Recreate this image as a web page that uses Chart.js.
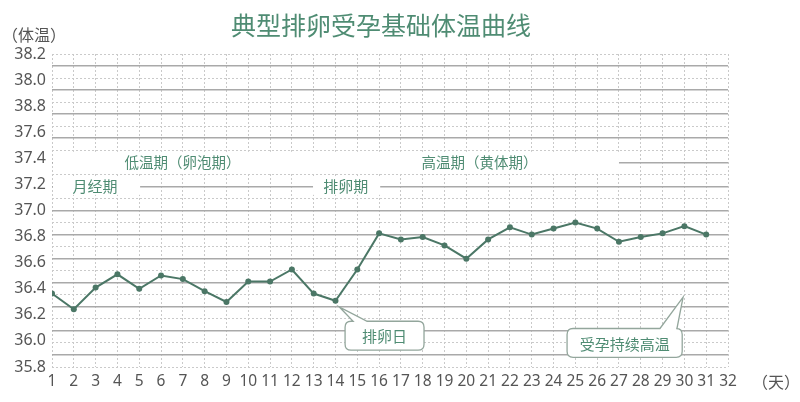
<!DOCTYPE html>
<html>
<head>
<meta charset="utf-8">
<script src="https://cdn.jsdelivr.net/npm/chart.js@4/dist/chart.umd.min.js"></script>
<style>
  html, body { margin: 0; padding: 0; background: #fff; }
  #wrap { width: 800px; height: 402px; position: relative; }
</style>
</head>
<body>
<div id="wrap"><canvas id="bbt-chart"></canvas></div>
<script>
// ===================== DATA =====================
const days = [1, 2, 3, 4, 5, 6, 7, 8, 9, 10, 11, 12, 13, 14, 15, 16, 17, 18, 19, 20, 21, 22, 23, 24, 25, 26, 27, 28, 29, 30, 31];
const temps = [36.31, 36.18, 36.36, 36.47, 36.35, 36.46, 36.43, 36.33, 36.24, 36.41, 36.41, 36.51, 36.31, 36.25, 36.51,
  36.81, 36.76, 36.78, 36.71, 36.60, 36.76, 36.86, 36.80, 36.85, 36.90, 36.85, 36.74, 36.78, 36.81, 36.87, 36.80];
// tick labels exactly as printed on the picture (top -> bottom)
const yTickLabels = ["38.2", "38.0", "38.8", "37.6", "37.4", "37.2", "37.0", "36.8", "36.6", "36.4", "36.2", "36.0", "35.8"];
const xTickLabels = ["1", "2", "3", "4", "5", "6", "7", "8", "9", "10", "11", "12", "13", "14", "15", "16",
  "17", "18", "19", "20", "21", "22", "23", "24", "25", "26", "27", "28", "29", "30", "31", "32"];

const GREEN = "#4f8c73";
const LINE = "#4b7766";
const CJK = "'Noto Sans CJK SC', 'Noto Sans', sans-serif";

// ===================== DRAW HELPERS =====================
function isSolid(v) {
  return Math.round(v * 10) % 2 === 0;
}

function callout(ctx, box, tip, base1, base2, text) {
  const r = 6;
  const { l, t, rt, b } = box;
  ctx.save();
  ctx.beginPath();
  ctx.moveTo(l + r, t);
  ctx.lineTo(base1, t);
  ctx.lineTo(tip.x, tip.y);
  ctx.lineTo(base2, t);
  ctx.lineTo(rt - r, t);
  ctx.quadraticCurveTo(rt, t, rt, t + r);
  ctx.lineTo(rt, b - r);
  ctx.quadraticCurveTo(rt, b, rt - r, b);
  ctx.lineTo(l + r, b);
  ctx.quadraticCurveTo(l, b, l, b - r);
  ctx.lineTo(l, t + r);
  ctx.quadraticCurveTo(l, t, l + r, t);
  ctx.closePath();
  ctx.fillStyle = "#fff";
  ctx.fill();
  ctx.strokeStyle = "#93a69c";
  ctx.lineWidth = 1.3;
  ctx.stroke();
  ctx.fillStyle = GREEN;
  ctx.font = "15px " + CJK;
  ctx.textAlign = "center";
  ctx.textBaseline = "middle";
  ctx.fillText(text, (l + rt) / 2, (t + b) / 2 + 1);
  ctx.restore();
}

const decorations = {
  id: "decorations",
  beforeDatasetsDraw(chart) {
    const { ctx } = chart;
    const x = chart.scales.x, y = chart.scales.y;
    ctx.save();
    // white band hiding the 37.4 row
    ctx.fillStyle = "#fff";
    ctx.fillRect(x.getPixelForValue(1) + 1, y.getPixelForValue(37.5) + 1.5,
      x.getPixelForValue(27) - x.getPixelForValue(1) - 1, y.getPixelForValue(37.3) - y.getPixelForValue(37.5) - 3);
    // gaps in the 37.2 row
    const y2a = y.getPixelForValue(37.27), y2b = y.getPixelForValue(37.13);
    ctx.fillRect(x.getPixelForValue(1) + 1, y2a, x.getPixelForValue(5.04) - x.getPixelForValue(1) - 1, y2b - y2a);
    ctx.fillRect(x.getPixelForValue(12.97), y2a, x.getPixelForValue(16.05) - x.getPixelForValue(12.97), y2b - y2a);

    ctx.fillStyle = GREEN;
    ctx.textAlign = "center";
    ctx.textBaseline = "middle";
    ctx.font = "14.5px " + CJK;
    ctx.fillText("低温期（卵泡期）", x.getPixelForValue(6.98), y.getPixelForValue(37.4));
    ctx.fillText("高温期（黄体期）", x.getPixelForValue(20.6), y.getPixelForValue(37.4));
    ctx.font = "15px " + CJK;
    ctx.fillText("月经期", x.getPixelForValue(2.97), y.getPixelForValue(37.2));
    ctx.fillText("排卵期", x.getPixelForValue(14.47), y.getPixelForValue(37.2));
    ctx.restore();
  },
  afterDatasetsDraw(chart) {
    const { ctx } = chart;
    const x = chart.scales.x, y = chart.scales.y;
    callout(ctx,
      { l: x.getPixelForValue(14.44), t: y.getPixelForValue(36.08), rt: x.getPixelForValue(18.06), b: y.getPixelForValue(35.84) },
      { x: x.getPixelForValue(14.17), y: y.getPixelForValue(36.2) },
      x.getPixelForValue(14.81), x.getPixelForValue(15.45), "排卵日");
    callout(ctx,
      { l: x.getPixelForValue(24.62), t: y.getPixelForValue(36.02), rt: x.getPixelForValue(29.9), b: y.getPixelForValue(35.78) },
      { x: x.getPixelForValue(29.94), y: y.getPixelForValue(36.28) },
      x.getPixelForValue(28.88), x.getPixelForValue(29.66), "受孕持续高温");

    // title and axis names
    ctx.save();
    ctx.textBaseline = "middle";
    ctx.textAlign = "center";
    ctx.fillStyle = GREEN;
    ctx.font = "25px " + CJK;
    ctx.fillText("典型排卵受孕基础体温曲线", 381, 25);
    ctx.fillStyle = "#555";
    ctx.font = "16px " + CJK;
    ctx.textAlign = "left";
    ctx.fillText("（体温）", 2, 35);
    ctx.fillText("（天）", 752, 382);
    ctx.restore();
  },
};

// ===================== CHART =====================
new Chart(document.getElementById("bbt-chart"), {
  type: "line",
  data: {
    datasets: [
      {
        data: days.map((d, i) => ({ x: d, y: temps[i] })),
        yAxisID: "y",
        borderColor: LINE,
        backgroundColor: LINE,
        borderWidth: 2,
        pointRadius: 3,
        pointBackgroundColor: LINE,
        pointBorderWidth: 0,
        tension: 0,
      },
    ],
  },
  options: {
    responsive: true,
    maintainAspectRatio: false,
    animation: false,
    layout: { padding: { top: 54, right: 72, left: 0, bottom: 0 } },
    plugins: { legend: { display: false }, tooltip: { enabled: false }, title: { display: false } },
    scales: {
      x: {
        type: "linear",
        min: 1,
        max: 32,
        afterFit: (s) => { s.height = 35; },
        ticks: {
          stepSize: 1,
          autoSkip: false,
          maxRotation: 0,
          padding: 5,
          color: "#555",
          font: { size: 15.5, family: "'Noto Sans', sans-serif" },
          callback: (v) => xTickLabels[v - 1],
        },
        grid: { color: "#c9c9c9", lineWidth: 1, drawTicks: false },
        border: { display: false, dash: [2, 2] },
      },
      yl: {
        type: "linear",
        position: "left",
        min: 0,
        max: 12,
        reverse: true,
        afterFit: (s) => { s.width = 52; },
        ticks: {
          stepSize: 1,
          padding: 6,
          color: "#555",
          font: { size: 16, family: "'Noto Sans', sans-serif" },
          callback: (v) => yTickLabels[v],
        },
        grid: { display: false, drawTicks: false },
        border: { display: false },
      },
      y: {
        type: "linear",
        position: "right",
        min: 35.7,
        max: 38.3,
        afterFit: (s) => { s.width = 0; },
        ticks: { stepSize: 0.1, display: false },
        grid: {
          drawTicks: false,
          color: (c) => (isSolid(c.tick.value) ? "#a9a9a9" : "#cacaca"),
          lineWidth: (c) => (isSolid(c.tick.value) ? 1.6 : 1),
        },
        border: { display: false, dash: (c) => (c.tick && isSolid(c.tick.value) ? [] : [2, 2]) },
      },
    },
  },
  plugins: [decorations],
});
</script>
</body>
</html>
